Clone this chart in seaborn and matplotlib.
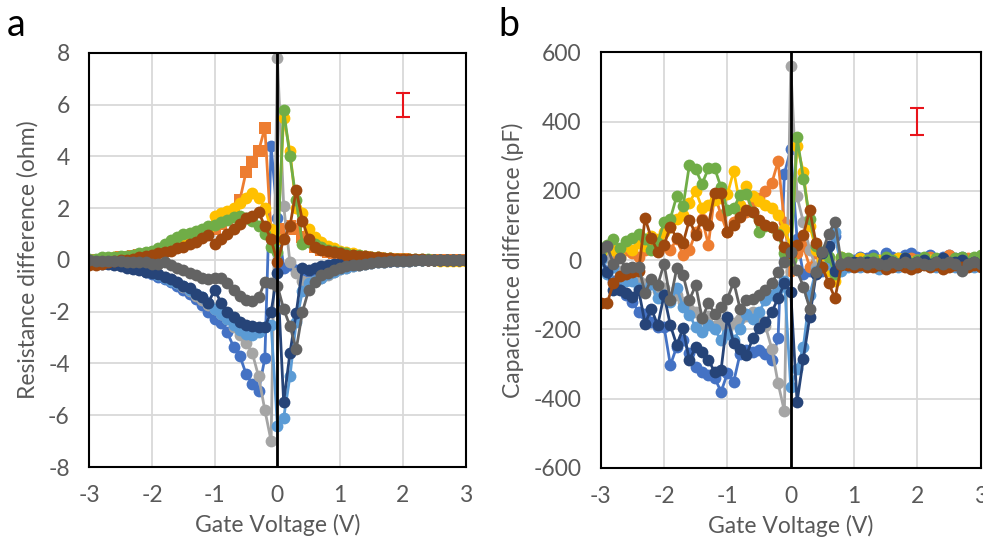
import numpy as np
import pandas as pd
import matplotlib
matplotlib.use("Agg")
import matplotlib.pyplot as plt
import seaborn as sns

# gate voltage sweep, 0.1 V steps
volts = np.round(np.arange(-3.0, 3.01, 0.1), 1)

series_names = ["blue", "orange", "gray", "yellow", "lightblue", "green", "darkblue", "brown", "darkgray"]
series_colors = ["#4472C4", "#ED7D31", "#A5A5A5", "#FFC000", "#5B9BD5", "#70AD47", "#264478", "#9E480E", "#636363"]

# ---- panel a : resistance difference (ohm) ----
a_blue = [-0.05, -0.05, -0.1, -0.1, -0.15, -0.2, -0.25, -0.3, -0.35, -0.45,
          -0.55, -0.65, -0.75, -0.85, -1.0, -1.15, -1.3, -1.5, -1.75, -2.0,
          -2.3, -2.45, -2.8, -3.35, -3.7, -4.4, -4.8, -5.05, -3.8, 4.4,
          1.6,
          -0.3, -0.2, -0.4, -0.5, -0.5, -0.45, -0.4, -0.3, -0.25, -0.2,
          -0.18, -0.15, -0.12, -0.1, -0.08, -0.06, -0.05, -0.04, -0.03, -0.02,
          -0.02, -0.01, -0.01, 0, 0, 0, 0, 0, 0, 0]
a_orange = [0.0, 0.0, 0.0, 0.05, 0.05, 0.1, 0.1, 0.15, 0.2, 0.2,
            0.25, 0.3, 0.4, 0.5, 0.6, 0.7, 0.8, 0.9, 1.0, 1.1,
            1.2, 1.4, 1.6, 1.8, 2.3, 3.4, 3.8, 4.2, 5.1, 1.0,
            1.1,
            1.2, 1.3, 1.2, 0.9, 0.7, 0.5, 0.4, 0.3, 0.25, 0.2,
            0.18, 0.15, 0.12, 0.1, 0.08, 0.06, 0.05, 0.04, 0.03, 0.02,
            0.01, 0.01, 0, 0, 0, 0, 0, 0, 0, 0]
a_gray = [-0.05, -0.05, -0.1, -0.1, -0.1, -0.15, -0.2, -0.25, -0.3, -0.35,
          -0.45, -0.55, -0.65, -0.75, -0.9, -1.05, -1.2, -1.4, -1.55, -1.75,
          -1.9, -2.1, -2.3, -2.6, -2.9, -3.2, -3.6, -4.5, -5.8, -7.0,
          7.8,
          2.1, -0.1, -0.5, -0.8, -0.85, -0.8, -0.7, -0.6, -0.45, -0.35,
          -0.3, -0.25, -0.2, -0.15, -0.12, -0.1, -0.08, -0.06, -0.05, -0.04,
          -0.03, -0.02, -0.02, -0.01, -0.01, 0, 0, 0, 0, 0]
a_yellow = [0.0, 0.0, 0.05, 0.05, 0.1, 0.1, 0.1, 0.15, 0.2, 0.25,
            0.3, 0.35, 0.45, 0.55, 0.7, 0.8, 0.9, 1.0, 1.1, 1.2,
            1.7, 1.8, 1.9, 2.0, 2.2, 2.4, 2.6, 2.4, 2.0, 1.2,
            0.8,
            5.5, 4.2, 2.0, 1.8, 1.2, 0.9, 0.7, 0.55, 0.45, 0.35,
            0.3, 0.25, 0.2, 0.15, 0.12, 0.1, 0.08, 0.06, 0.04, 0.03,
            0.02, 0.01, 0.0, 0.0, -0.02, -0.03, -0.03, -0.03, -0.03, -0.03]
a_lightblue = [-0.05, -0.05, -0.1, -0.1, -0.15, -0.2, -0.25, -0.3, -0.35, -0.4,
               -0.5, -0.6, -0.7, -0.8, -0.9, -1.0, -1.15, -1.3, -1.45, -1.65,
               -1.9, -2.1, -2.3, -2.5, -2.7, -2.85, -2.9, -2.8, -2.6, -2.5,
               -6.4,
               -6.1, -4.5, -2.4, -1.2, -0.9, -0.8, -0.7, -0.55, -0.45, -0.35,
               -0.3, -0.25, -0.2, -0.15, -0.12, -0.1, -0.08, -0.06, -0.05, -0.04,
               -0.03, -0.02, -0.02, -0.01, -0.01, 0, 0, 0, 0, 0]
a_green = [0.05, 0.05, 0.1, 0.1, 0.1, 0.15, 0.15, 0.2, 0.25, 0.3,
           0.35, 0.45, 0.6, 0.75, 0.9, 1.0, 1.05, 1.1, 1.2, 1.3,
           1.35, 1.45, 1.55, 1.65, 1.7, 1.6, 1.5, 1.3, 1.0, 0.5,
           0.3,
           5.8, 4.0, 2.3, 0.6, 0.7, 0.6, 0.5, 0.4, 0.35, 0.3,
           0.25, 0.2, 0.18, 0.15, 0.12, 0.1, 0.08, 0.06, 0.05, 0.04,
           0.03, 0.03, 0.02, 0.02, 0.01, 0.01, 0.0, 0.0, 0.0, 0.0]
a_darkblue = [-0.1, -0.1, -0.15, -0.15, -0.2, -0.25, -0.3, -0.35, -0.4, -0.45,
              -0.5, -0.55, -0.65, -0.75, -0.85, -1.0, -1.1, -1.3, -1.45, -1.65,
              -1.15, -1.65, -2.0, -2.2, -2.4, -2.5, -2.55, -2.6, -2.6, -2.0,
              -0.5,
              -5.5, -3.6, -2.05, -0.3, -0.4, -0.3, -0.25, -0.2, -0.15, -0.12,
              -0.1, -0.08, -0.07, -0.06, -0.05, -0.04, -0.03, -0.03, -0.02, -0.02,
              -0.01, -0.01, -0.01, 0, 0, 0, 0, 0, 0, 0]
a_brown = [-0.2, -0.2, -0.15, -0.1, -0.05, 0.0, 0.0, 0.05, 0.1, 0.15,
           0.2, 0.25, 0.3, 0.35, 0.45, 0.5, 0.6, 0.7, 0.85, 0.95,
           0.6, 0.8, 1.0, 1.2, 1.4, 1.6, 1.7, 1.85, 1.3, 0.8,
           -0.1,
           0.8, 1.3, 2.7, 1.5, 0.8, 0.5, 0.4, 0.35, 0.3, 0.25,
           0.2, 0.2, 0.15, 0.15, 0.1, 0.1, 0.08, 0.06, 0.05, 0.04,
           0.03, 0.02, 0.02, 0.01, 0.01, 0, 0, 0, 0, 0]
a_darkgray = [0.0, -0.05, -0.05, -0.05, -0.05, -0.05, -0.1, -0.1, -0.1, -0.1,
              -0.15, -0.15, -0.1, -0.2, -0.3, -0.4, -0.5, -0.6, -0.7, -0.75,
              -0.7, -0.7, -0.9, -1.15, -1.4, -1.55, -1.6, -1.45, -0.85, -0.9,
              -1.0,
              -1.9, -2.55, -3.45, -2.0, -1.15, -0.85, -0.6, -0.5, -0.4, -0.3,
              -0.25, -0.2, -0.18, -0.15, -0.12, -0.1, -0.08, -0.06, -0.05, -0.04,
              -0.03, -0.02, -0.02, -0.01, -0.01, 0, 0, 0, 0, 0]

# ---- panel b : capacitance difference (pF) ----
b_blue = [20, -30, -60, -80, -100, -120, -150, -154, -178, -192,
          -192, -303, -250, -230, -269, -308, -322, -332, -340, -380,
          -327, -351, -270, -260, -264, -260, -270, -288, -226, 250,
          320,
          60, -40, -30, -20, -30, -10, 70, -10, -5, 0,
          10, 5, 15, 0, 20, 10, 5, 15, 20, 10,
          5, 15, 0, 10, 15, 5, 10, 0, 5, 10]
b_orange = [30, 20, 10, 25, 30, 20, 10, 30, 40, 50,
            40, 30, 60, 15, 30, 80, 120, 45, 190, 130,
            80, 110, 130, 140, 170, 180, 200, 222, 285, 110,
            -30,
            20, 40, -20, 20, 0, -10, -40, 0, -5, -10,
            -5, 0, -10, -5, 5, -10, -5, 0, 5, -10,
            -5, 10, 0, -10, 15, 0, -5, 5, 0, -5]
b_gray = [20, 10, -20, -30, -40, -50, -60, -70, -60, -90,
          -80, -110, -100, -120, -140, -150, -170, -160, -190, -180,
          -200, -180, -170, -160, -150, -170, -190, -255, -355, -436,
          561,
          184, 109, 30, -20, -10, 0, -20, -10, -5, -10,
          -5, -10, 0, -5, -10, -5, 0, -10, -5, -5,
          -10, 0, -5, -10, -5, 0, -5, -10, -5, 0]
b_yellow = [20, 40, 30, 10, 40, 30, 50, 40, 70, 60,
            80, 95, 120, 130, 165, 200, 150, 160, 175, 180,
            190, 258, 160, 215, 185, 170, 160, 150, 130, 90,
            40,
            330, 255, 100, 30, 0, -30, -60, 10, 0, -10,
            5, -5, -10, 0, -5, -10, 5, -10, -5, 0,
            -10, 0, -15, -5, -10, 0, -5, -10, 0, -5]
b_lightblue = [0, -40, -20, -50, -60, -60, -80, -90, -70, -110,
               -100, -120, -80, -135, -159, -192, -207, -188, -200, -231,
               -212, -230, -200, -154, -170, -150, -115, -100, -82, -60,
               -366,
               -313, -250, -100, -30, -20, -10, 80, -30, -20, -15,
               -20, -10, -15, -25, -10, -15, -20, -10, -15, -20,
               -10, -15, -20, -10, -15, -20, -10, -15, -20, -15]
b_green = [30, 45, 60, 35, 55, 65, 75, 60, 30, 50,
           110, 120, 185, 155, 275, 262, 220, 265, 265, 210,
           145, 150, 188, 192, 140, 80, 100, 95, 75, 20,
           0,
           355, 235, 120, 40, 20, 10, -40, 10, 5, -15,
           -5, 0, 5, -15, 10, 0, -10, 5, -15, 0,
           10, -10, 5, 0, -15, 5, 10, -5, 10, 15]
b_darkblue = [5, -34, -87, -87, -96, -106, -87, -183, -140, -188,
              -101, -188, -245, -197, -289, -250, -264, -289, -322, -318,
              -164, -240, -255, -274, -226, -197, -178, -150, -110, -67,
              -91,
              -409, -284, -164, -40, 20, 40, -30, -10, -15, -5,
              -10, -5, -15, -10, 0, -5, -10, 5, -10, -5,
              0, -10, -5, 5, -10, -5, 0, -10, -5, -10]
b_brown = [-125, -125, -67, -45, -40, -35, -30, 121, 63, 25,
           44, 97, 63, 49, 117, 73, 117, 102, 193, 193,
           82, 102, 126, 145, 140, 117, 102, 97, 73, 39,
           20,
           44, 73, 145, 49, -20, -67, -110, -15, -15, -20,
           -15, -20, -20, -15, -25, -20, -15, -20, -25, -20,
           -15, -20, -15, -25, -20, -15, -20, -20, -15, -20]
b_darkgray = [35, 40, -10, 5, -24, -19, -19, -96, -53, -72,
              -10, -115, -24, -43, -115, -72, -168, -125, -154, -135,
              -111, -63, -140, -115, -111, -101, -87, -67, -34, -5,
              24,
              -29, -77, -140, -34, 24, 77, 111, -10, -5, -10,
              -5, -10, -5, -10, -15, -5, -10, -5, -10, -5,
              -10, -15, -5, -10, -5, -10, -30, -10, -5, -10]

# red error-bar symbol shown in each panel
a_err = (2.0, 5.98, 0.47)
b_err = (2.0, 400, 40)

a_values = [a_blue, a_orange, a_gray, a_yellow, a_lightblue, a_green, a_darkblue, a_brown, a_darkgray]
b_values = [b_blue, b_orange, b_gray, b_yellow, b_lightblue, b_green, b_darkblue, b_brown, b_darkgray]


def long_frame(values):
    parts = []
    for name, vals in zip(series_names, values):
        parts.append(pd.DataFrame({"V": volts, "val": vals, "series": name}))
    return pd.concat(parts, ignore_index=True)


sns.set_style("white")
plt.rcParams['font.family'] = ['Lato', 'DejaVu Sans']
plt.rcParams['axes.unicode_minus'] = False
txt = "#595959"

fig = plt.figure(figsize=(9.83, 5.45), dpi=100)
ax_a = fig.add_axes([0.0908, 0.1431, 0.3828, 0.7600])
ax_b = fig.add_axes([0.6111, 0.1413, 0.3866, 0.7626])

palette = dict(zip(series_names, series_colors))

for ax, vals, err, ylim, ystep, ylab, sq in [
        (ax_a, a_values, a_err, (-8, 8), 2, "Resistance difference (ohm)", True),
        (ax_b, b_values, b_err, (-600, 600), 200, "Capacitance difference (pF)", False)]:
    df = long_frame(vals)
    mk = {n: "o" for n in series_names}
    if sq:
        mk["orange"] = "s"
    sns.lineplot(data=df, x="V", y="val", hue="series", style="series",
                 hue_order=series_names, style_order=series_names,
                 palette=palette, markers=mk, dashes=False, sort=False,
                 estimator=None, linewidth=2, markersize=8.5,
                 markeredgewidth=0, legend=False, ax=ax)
    ax.axvline(0, color="black", lw=2, zorder=5)
    ax.errorbar([err[0]], [err[1]], yerr=[err[2]], fmt="none",
                ecolor="#E8141B", elinewidth=1.5, capsize=5, capthick=1.5, zorder=6)
    ax.set_xlim(-3, 3)
    ax.set_ylim(*ylim)
    ax.set_xticks(range(-3, 4))
    ax.set_yticks(np.arange(ylim[0], ylim[1] + ystep, ystep))
    ax.grid(True, color="#D9D9D9", lw=1.3)
    ax.set_axisbelow(True)
    for s in ax.spines.values():
        s.set_color("black")
        s.set_linewidth(1.5)
    ax.tick_params(length=0, labelsize=16.5, labelcolor=txt)
    ax.tick_params(axis="y", pad=14)
    ax.tick_params(axis="x", pad=13)
    ax.set_xlabel("Gate Voltage (V)", fontsize=16.5, color=txt, labelpad=6)
    ax.set_ylabel(ylab, fontsize=16.5, color=txt, labelpad=7)

fig.text(0.007, 1 - 36 / 545, "a", fontsize=27, color="black", va="baseline")
fig.text(0.507, 1 - 36 / 545, "b", fontsize=27, color="black", va="baseline")

fig.savefig("out.png", dpi=100)
